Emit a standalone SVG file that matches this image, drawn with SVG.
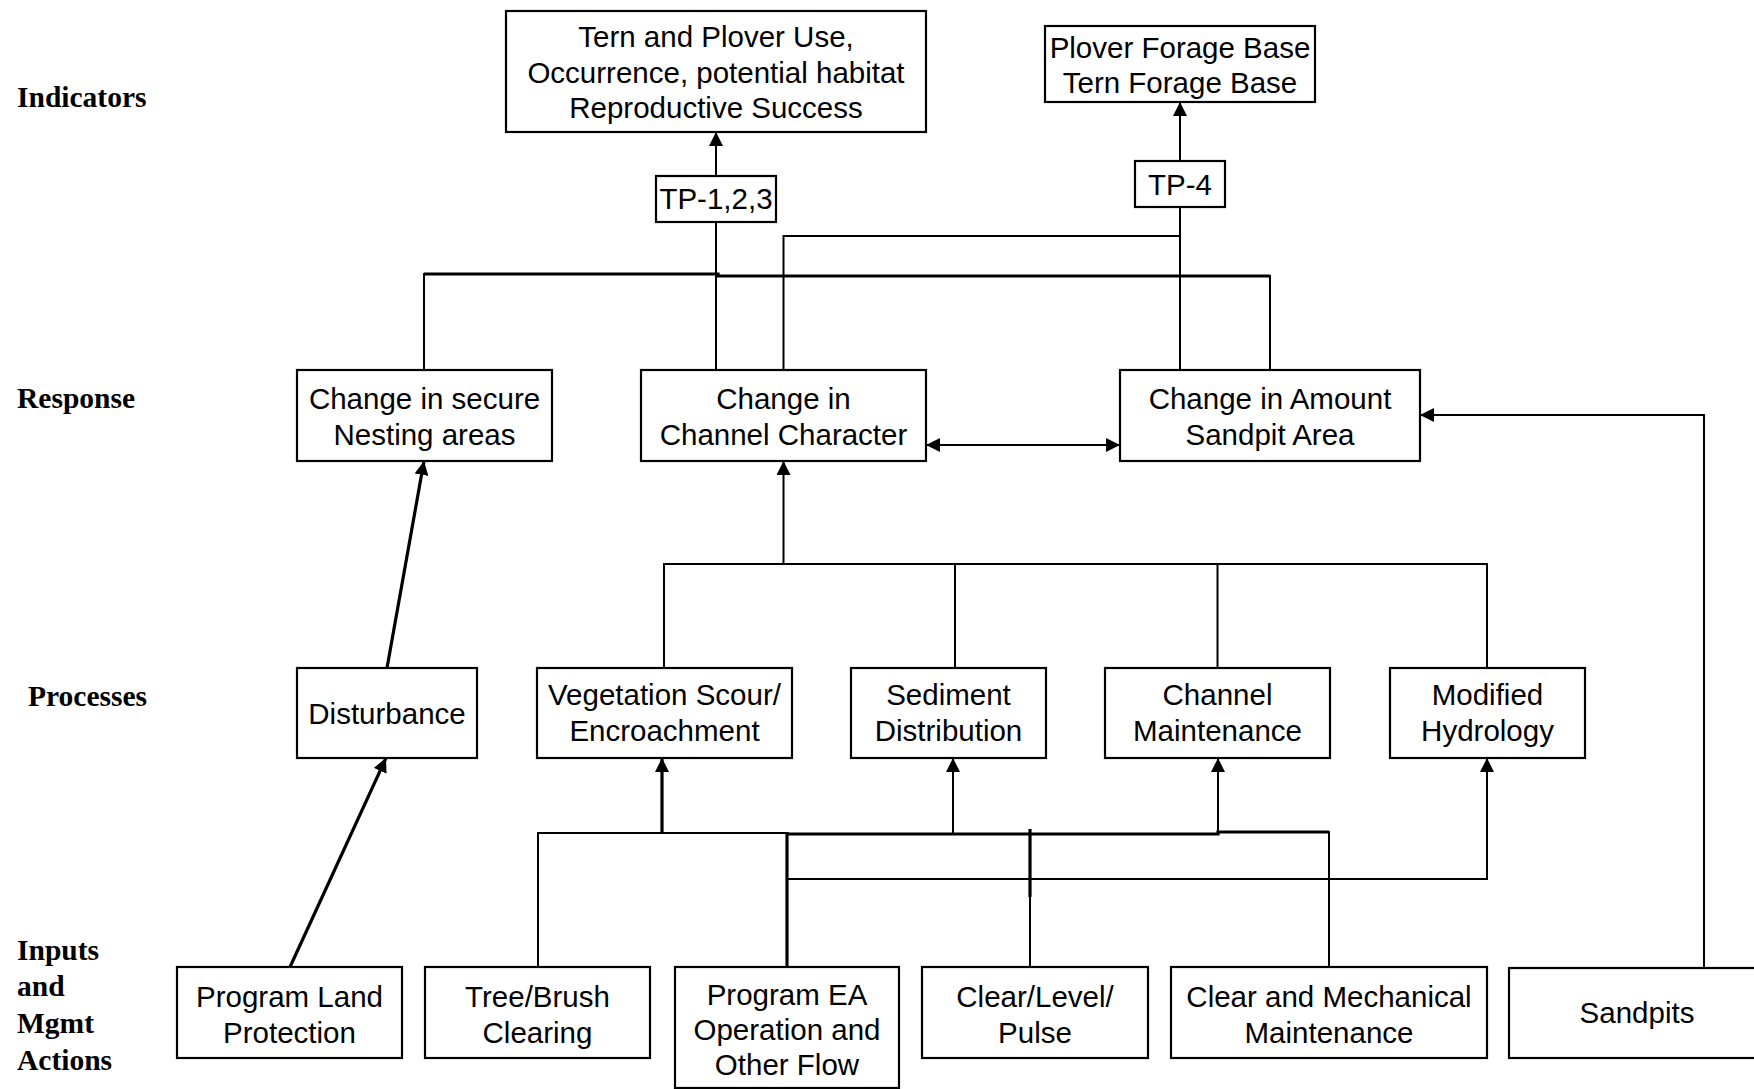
<svg xmlns="http://www.w3.org/2000/svg" width="1754" height="1089" viewBox="0 0 1754 1089">
<defs>
<style>
.box{fill:#fff;stroke:#000;stroke-width:2.2}
.t{font-family:"Liberation Sans",Arial,sans-serif;font-size:29.5px;fill:#000;text-anchor:middle}
.lbl{font-family:"Liberation Serif","Times New Roman",serif;font-size:29.5px;font-weight:bold;fill:#000}
.c{fill:none;stroke:#000;stroke-width:2;stroke-linejoin:miter}
.ck{fill:none;stroke:#000;stroke-width:3.2;stroke-linejoin:miter}
</style>
<marker id="ah" viewBox="0 0 14 14" refX="14" refY="7" markerWidth="14" markerHeight="14" markerUnits="userSpaceOnUse" orient="auto-start-reverse">
<path d="M0,0 L14,7 L0,14 z" fill="#000"/>
</marker>
</defs>
<rect x="0" y="0" width="1754" height="1089" fill="#fff"/>

<g id="labels">
<text class="lbl" x="17" y="107">Indicators</text>
<text class="lbl" x="17" y="408">Response</text>
<text class="lbl" x="28" y="706">Processes</text>
<text class="lbl" x="17" y="960">Inputs</text>
<text class="lbl" x="17" y="996">and</text>
<text class="lbl" x="17" y="1033">Mgmt</text>
<text class="lbl" x="17" y="1070">Actions</text>
</g>

<g id="connectors">
<line class="c" x1="716" y1="176" x2="716" y2="132" marker-end="url(#ah)"/>
<line class="c" x1="716" y1="370" x2="716" y2="222"/>
<polyline class="ck" points="424,274 718,274 718,276 1270,276"/>
<line class="c" x1="424" y1="273" x2="424" y2="370"/>
<line class="c" x1="1270" y1="275" x2="1270" y2="370"/>
<polyline class="c" points="783.5,370 783.5,236 1180,236"/>
<line class="c" x1="1180" y1="161" x2="1180" y2="102" marker-end="url(#ah)"/>
<line class="c" x1="1180" y1="207" x2="1180" y2="370"/>
<line class="c" x1="926" y1="445" x2="1120" y2="445" marker-start="url(#ah)" marker-end="url(#ah)"/>
<polyline class="c" points="1704,968 1704,415 1420,415" marker-end="url(#ah)"/>
<line class="ck" x1="387" y1="668" x2="424" y2="461" marker-end="url(#ah)"/>
<line class="ck" x1="290" y1="967" x2="386" y2="758" marker-end="url(#ah)"/>
<polyline class="c" points="664,668 664,564 1487,564 1487,668"/>
<line class="c" x1="955" y1="564" x2="955" y2="668"/>
<line class="c" x1="1217.5" y1="564" x2="1217.5" y2="668"/>
<line class="c" x1="783.5" y1="564" x2="783.5" y2="461" marker-end="url(#ah)"/>
<polyline class="c" points="538,967 538,833 787,833"/>
<polyline class="ck" points="787,834 1218,834 1218,832 1329,832"/>
<line class="c" x1="1329" y1="831" x2="1329" y2="967"/>
<line class="ck" x1="662" y1="833" x2="662" y2="758" marker-end="url(#ah)"/>
<line class="c" x1="953" y1="833" x2="953" y2="758" marker-end="url(#ah)"/>
<line class="c" x1="1218" y1="833" x2="1218" y2="758" marker-end="url(#ah)"/>
<line class="ck" x1="787" y1="832" x2="787" y2="967"/>
<line class="ck" x1="1030" y1="829" x2="1030" y2="897"/>
<line class="c" x1="1030" y1="895" x2="1030" y2="967"/>
<polyline class="c" points="787,879 1487,879 1487,758" marker-end="url(#ah)"/>
</g>

<g id="tern-plover-use">
<rect class="box" x="506" y="11" width="420" height="121"/>
<text class="t" x="716" y="47">Tern and Plover Use,</text>
<text class="t" x="716" y="83">Occurrence, potential habitat</text>
<text class="t" x="716" y="118">Reproductive Success</text>
</g>
<g id="forage-base">
<rect class="box" x="1045" y="26" width="270" height="76"/>
<text class="t" x="1180" y="58">Plover Forage Base</text>
<text class="t" x="1180" y="93">Tern Forage Base</text>
</g>
<g id="tp-123">
<rect class="box" x="656" y="176" width="120" height="46"/>
<text class="t" x="716" y="209">TP-1,2,3</text>
</g>
<g id="tp-4">
<rect class="box" x="1135" y="161" width="90" height="46"/>
<text class="t" x="1180" y="195">TP-4</text>
</g>
<g id="nesting-areas">
<rect class="box" x="297" y="370" width="255" height="91"/>
<text class="t" x="424.5" y="409">Change in secure</text>
<text class="t" x="424.5" y="445">Nesting areas</text>
</g>
<g id="channel-character">
<rect class="box" x="641" y="370" width="285" height="91"/>
<text class="t" x="783.5" y="409">Change in</text>
<text class="t" x="783.5" y="445">Channel Character</text>
</g>
<g id="sandpit-area">
<rect class="box" x="1120" y="370" width="300" height="91"/>
<text class="t" x="1270" y="409">Change in Amount</text>
<text class="t" x="1270" y="445">Sandpit Area</text>
</g>
<g id="disturbance">
<rect class="box" x="297" y="668" width="180" height="90"/>
<text class="t" x="387" y="724">Disturbance</text>
</g>
<g id="vegetation">
<rect class="box" x="537" y="668" width="255" height="90"/>
<text class="t" x="664.5" y="705">Vegetation Scour/</text>
<text class="t" x="664.5" y="741">Encroachment</text>
</g>
<g id="sediment">
<rect class="box" x="851" y="668" width="195" height="90"/>
<text class="t" x="948.5" y="705">Sediment</text>
<text class="t" x="948.5" y="741">Distribution</text>
</g>
<g id="channel-maintenance">
<rect class="box" x="1105" y="668" width="225" height="90"/>
<text class="t" x="1217.5" y="705">Channel</text>
<text class="t" x="1217.5" y="741">Maintenance</text>
</g>
<g id="modified-hydrology">
<rect class="box" x="1390" y="668" width="195" height="90"/>
<text class="t" x="1487.5" y="705">Modified</text>
<text class="t" x="1487.5" y="741">Hydrology</text>
</g>
<g id="land-protection">
<rect class="box" x="177" y="967" width="225" height="91"/>
<text class="t" x="289.5" y="1007">Program Land</text>
<text class="t" x="289.5" y="1043">Protection</text>
</g>
<g id="tree-brush">
<rect class="box" x="425" y="967" width="225" height="91"/>
<text class="t" x="537.5" y="1007">Tree/Brush</text>
<text class="t" x="537.5" y="1043">Clearing</text>
</g>
<g id="program-ea">
<rect class="box" x="675" y="967" width="224" height="121"/>
<text class="t" x="787" y="1005">Program EA</text>
<text class="t" x="787" y="1040">Operation and</text>
<text class="t" x="787" y="1075">Other Flow</text>
</g>
<g id="clear-level-pulse">
<rect class="box" x="922" y="967" width="226" height="91"/>
<text class="t" x="1035" y="1007">Clear/Level/</text>
<text class="t" x="1035" y="1043">Pulse</text>
</g>
<g id="clear-mechanical">
<rect class="box" x="1171" y="967" width="316" height="91"/>
<text class="t" x="1329" y="1007">Clear and Mechanical</text>
<text class="t" x="1329" y="1043">Maintenance</text>
</g>
<g id="sandpits">
<rect class="box" x="1509" y="968" width="257" height="90"/>
<text class="t" x="1637" y="1023">Sandpits</text>
</g>
</svg>
